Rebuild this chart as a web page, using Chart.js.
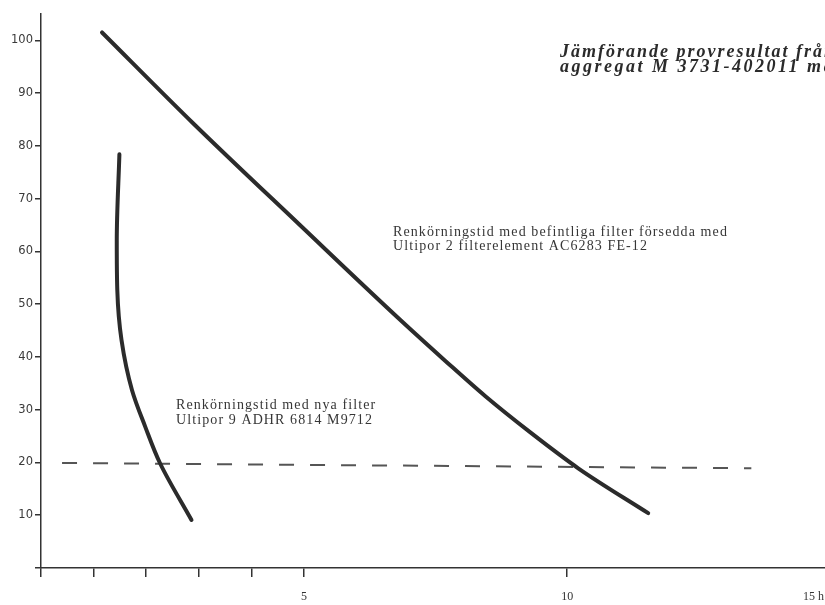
<!DOCTYPE html>
<html>
<head>
<meta charset="utf-8">
<script src="https://cdn.jsdelivr.net/npm/chart.js@4.4.1/dist/chart.umd.min.js"></script>
<style>
  html, body { margin: 0; padding: 0; background: #fff; }
  #chart { display: block; }
</style>
</head>
<body>
<canvas id="chart" width="825" height="605"></canvas>
<script>
// Axis ticks
const yTicks = [0, 10, 20, 30, 40, 50, 60, 70, 80, 90, 100];
const xTicks = [0, 1, 2, 3, 4, 5, 10];
const xTickLabels = { 5: "5", 10: "10" };

// Renkörningstid, befintliga filter (hours, level)
const oldFilterHours = [1.16, 2.89, 4.92, 6.83, 7.68, 8.44, 9.3, 10.21, 11.54];
const oldFilterLevel = [101.5, 84.3, 65, 47, 39.3, 32.6, 25.7, 18.9, 10.4];

// Renkörningstid, nya filter
const newFilterHours = [1.49, 1.44, 1.45, 1.53, 1.73, 1.98, 2.26, 2.86];
const newFilterLevel = [78.4, 62, 52.7, 43.2, 33.7, 26.8, 19.9, 9.1];

// Dashed limit line
const limitHours = [0.4, 13.5];
const limitLevel = [19.9, 18.9];

const toPoints = (xs, ys) => xs.map((x, i) => ({ x, y: ys[i] }));

const ink = "#2b2b2b";

// Free text on the sheet
const textPlugin = {
  id: "sheetText",
  afterDraw(chart) {
    const ctx = chart.ctx;
    ctx.save();
    ctx.fillStyle = ink;
    ctx.textBaseline = "middle";
    ctx.textAlign = "left";

    // title, cut off at the right edge as on the sheet
    ctx.font = "italic bold 18px 'Liberation Serif'";
    ctx.letterSpacing = "2px";
    ctx.fillText("Jämförande provresultat från", 560, 52);
    ctx.letterSpacing = "2.5px";
    ctx.fillText("aggregat M 3731-402011 med", 560, 67);

    ctx.font = "14px 'Liberation Serif'";
    ctx.letterSpacing = "1.1px";
    ctx.fillStyle = "#363636";
    ctx.fillText("Renkörningstid med befintliga filter försedda med", 393, 232);
    ctx.fillText("Ultipor 2 filterelement AC6283 FE-12", 393, 246);
    ctx.fillText("Renkörningstid med nya filter", 176, 405);
    ctx.fillText("Ultipor 9 ADHR 6814 M9712", 176, 420);

    ctx.letterSpacing = "0px";
    ctx.font = "12px 'Liberation Serif'";
    ctx.textAlign = "right";
    ctx.fillText("15 h", 824, 597);
    ctx.restore();
  }
};

const ctx = document.getElementById("chart").getContext("2d");
new Chart(ctx, {
  type: "line",
  data: {
    datasets: [
      {
        data: toPoints(oldFilterHours, oldFilterLevel),
        borderColor: ink,
        borderWidth: 4,
        cubicInterpolationMode: "monotone",
        borderCapStyle: "round",
        pointRadius: 0
      },
      {
        // the short curve runs almost vertical, so interpolate along y
        data: toPoints(newFilterHours, newFilterLevel),
        indexAxis: "y",
        borderColor: ink,
        borderWidth: 4,
        cubicInterpolationMode: "monotone",
        borderCapStyle: "round",
        pointRadius: 0
      },
      {
        data: toPoints(limitHours, limitLevel),
        borderColor: "#555",
        borderWidth: 2,
        borderDash: [15, 16],
        pointRadius: 0
      }
    ]
  },
  options: {
    responsive: false,
    animation: false,
    layout: { padding: { left: 0, right: 0, top: 14, bottom: 0 } },
    plugins: {
      legend: { display: false },
      tooltip: { enabled: false }
    },
    scales: {
      x: {
        type: "linear",
        min: 0,
        max: 14.9,
        afterFit: scale => { scale.height = 37; },
        afterBuildTicks: scale => { scale.ticks = xTicks.map(v => ({ value: v })); },
        grid: { drawOnChartArea: false, drawTicks: true, tickLength: 9, color: "#333", lineWidth: 1.5 },
        border: { color: "#333", width: 1.5 },
        ticks: {
          padding: 13,
          color: "#333",
          font: { family: "'Liberation Serif'", size: 12 },
          callback: v => xTickLabels[v] || ""
        }
      },
      y: {
        type: "linear",
        min: 0,
        max: 105,
        afterFit: scale => { scale.width = 41; },
        afterBuildTicks: scale => { scale.ticks = yTicks.map(v => ({ value: v })); },
        grid: { drawOnChartArea: false, drawTicks: true, tickLength: 6, color: "#333", lineWidth: 1.5 },
        border: { color: "#333", width: 1.5 },
        ticks: {
          padding: 2,
          color: "#3a3a3a",
          font: { family: "'DejaVu Sans'", size: 11.5 },
          callback: v => (v === 0 ? "" : String(v))
        }
      }
    }
  },
  plugins: [textPlugin]
});
</script>
</body>
</html>
